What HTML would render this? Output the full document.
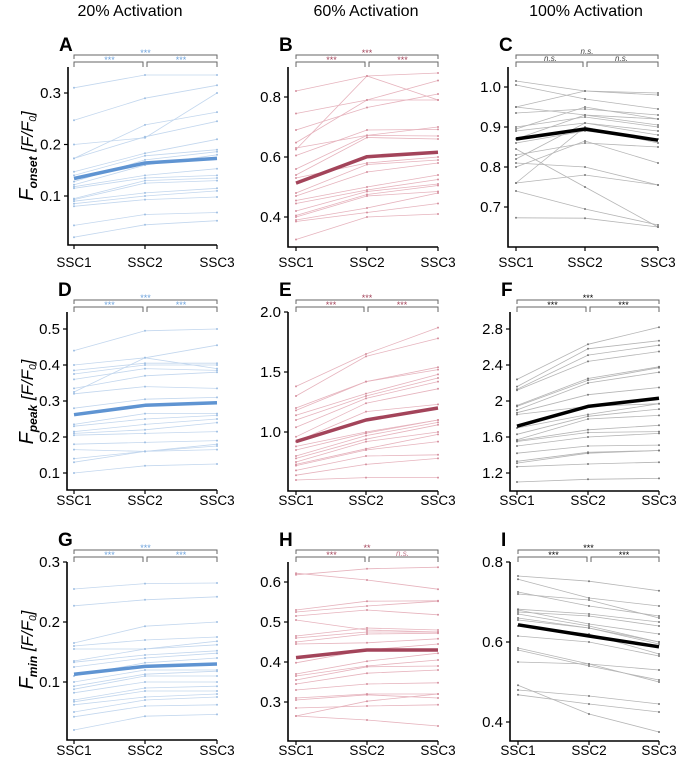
<!DOCTYPE html>
<html><head><meta charset="utf-8"><style>
html,body{margin:0;padding:0;background:#fff;}
svg{display:block;font-family:"Liberation Sans",Arial,sans-serif;}
</style></head><body>
<svg id="fig" width="677" height="759" viewBox="0 0 677 759" xmlns="http://www.w3.org/2000/svg">
<text x="130" y="16" font-size="16" text-anchor="middle">20% Activation</text>
<text x="366" y="16" font-size="16" text-anchor="middle">60% Activation</text>
<text x="586" y="16" font-size="16" text-anchor="middle">100% Activation</text>
<g font-style="italic" transform="translate(33,156) rotate(-90)"><text text-anchor="middle" font-size="20">F<tspan font-size="12" font-weight="bold" dy="4">onset</tspan><tspan dy="-4" font-size="17"> [F/F</tspan><tspan font-size="10" dy="3">0</tspan><tspan dy="-3" font-size="17">]</tspan></text></g>
<g font-style="italic" transform="translate(33,402) rotate(-90)"><text text-anchor="middle" font-size="20">F<tspan font-size="12" font-weight="bold" dy="4">peak</tspan><tspan dy="-4" font-size="17"> [F/F</tspan><tspan font-size="10" dy="3">0</tspan><tspan dy="-3" font-size="17">]</tspan></text></g>
<g font-style="italic" transform="translate(33,650) rotate(-90)"><text text-anchor="middle" font-size="20">F<tspan font-size="12" font-weight="bold" dy="4">min</tspan><tspan dy="-4" font-size="17"> [F/F</tspan><tspan font-size="10" dy="3">0</tspan><tspan dy="-3" font-size="17">]</tspan></text></g>
</svg>
<script>
const categories = ["SSC1","SSC2","SSC3"];
const dataA = [[0.31,0.335,0.335],[0.247,0.29,0.315],[0.2,0.213,0.3],[0.173,0.238,0.263],[0.173,0.215,0.245],[0.147,0.183,0.21],[0.14,0.178,0.19],[0.128,0.17,0.186],[0.122,0.16,0.18],[0.118,0.14,0.153],[0.115,0.135,0.14],[0.095,0.13,0.135],[0.093,0.125,0.13],[0.09,0.106,0.115],[0.085,0.1,0.11],[0.08,0.093,0.098],[0.043,0.064,0.068],[0.02,0.044,0.052]];
const meanA = [0.134,0.164,0.173];
const dataB = [[0.82,0.87,0.88],[0.745,0.79,0.855],[0.69,0.765,0.81],[0.648,0.79,0.79],[0.63,0.672,0.7],[0.625,0.87,0.79],[0.605,0.69,0.692],[0.56,0.672,0.67],[0.54,0.665,0.66],[0.53,0.58,0.6],[0.48,0.575,0.59],[0.47,0.55,0.58],[0.455,0.5,0.54],[0.445,0.49,0.525],[0.42,0.485,0.51],[0.405,0.475,0.505],[0.4,0.47,0.485],[0.39,0.43,0.48],[0.385,0.415,0.445],[0.325,0.4,0.41]];
const meanB = [0.513,0.601,0.616];
const dataC = [[1.015,0.99,0.98],[1.005,0.97,0.945],[0.95,0.99,0.985],[0.95,0.93,0.92],[0.935,0.945,0.93],[0.9,0.925,0.9],[0.895,0.95,0.92],[0.89,0.91,0.88],[0.87,0.93,0.905],[0.86,0.89,0.87],[0.845,0.75,0.65],[0.83,0.86,0.85],[0.82,0.91,0.89],[0.81,0.8,0.755],[0.8,0.865,0.81],[0.76,0.78,0.755],[0.76,0.9,0.86],[0.74,0.695,0.655],[0.673,0.672,0.65]];
const meanC = [0.87,0.895,0.867];
const dataD = [[0.44,0.495,0.5],[0.4,0.42,0.455],[0.385,0.405,0.405],[0.375,0.4,0.4],[0.36,0.39,0.385],[0.335,0.37,0.38],[0.32,0.34,0.335],[0.325,0.42,0.39],[0.28,0.305,0.31],[0.235,0.265,0.265],[0.23,0.25,0.26],[0.215,0.235,0.25],[0.21,0.22,0.24],[0.205,0.21,0.215],[0.18,0.185,0.19],[0.165,0.16,0.18],[0.14,0.16,0.175],[0.13,0.16,0.165],[0.1,0.12,0.125]];
const meanD = [0.262,0.288,0.295];
const dataE = [[1.38,1.65,1.87],[1.3,1.63,1.78],[1.2,1.42,1.54],[1.18,1.42,1.52],[1.14,1.32,1.48],[1.1,1.3,1.45],[1.04,1.28,1.42],[0.96,1.24,1.36],[0.92,1.17,1.23],[0.88,1.0,1.1],[0.85,0.99,1.1],[0.8,0.97,1.08],[0.78,0.94,1.06],[0.75,0.92,1.0],[0.73,0.86,0.98],[0.72,0.85,0.92],[0.68,0.8,0.81],[0.64,0.73,0.78],[0.6,0.62,0.62]];
const meanE = [0.92,1.1,1.2];
const dataF = [[2.24,2.63,2.82],[2.16,2.58,2.67],[2.13,2.51,2.62],[2.12,2.44,2.55],[1.95,2.25,2.38],[1.94,2.23,2.37],[1.9,2.2,2.32],[1.87,2.07,2.15],[1.85,1.94,1.97],[1.7,1.85,1.97],[1.63,1.83,1.91],[1.57,1.8,1.84],[1.56,1.68,1.73],[1.55,1.65,1.66],[1.5,1.6,1.64],[1.42,1.5,1.51],[1.33,1.43,1.45],[1.31,1.42,1.45],[1.27,1.3,1.32],[1.1,1.13,1.14]];
const meanF = [1.72,1.94,2.03];
const dataG = [[0.255,0.264,0.265],[0.227,0.237,0.242],[0.165,0.193,0.2],[0.16,0.17,0.175],[0.155,0.155,0.168],[0.135,0.155,0.162],[0.133,0.145,0.152],[0.125,0.14,0.148],[0.11,0.132,0.14],[0.1,0.12,0.12],[0.093,0.113,0.118],[0.088,0.11,0.11],[0.082,0.1,0.1],[0.07,0.09,0.093],[0.067,0.085,0.085],[0.062,0.075,0.08],[0.05,0.07,0.075],[0.042,0.06,0.062],[0.02,0.043,0.046]];
const meanG = [0.113,0.126,0.13];
const dataH = [[0.622,0.605,0.582],[0.618,0.633,0.637],[0.53,0.552,0.553],[0.525,0.54,0.552],[0.515,0.53,0.518],[0.505,0.48,0.475],[0.465,0.485,0.48],[0.46,0.475,0.475],[0.45,0.47,0.472],[0.445,0.448,0.458],[0.398,0.43,0.445],[0.37,0.402,0.422],[0.365,0.39,0.405],[0.355,0.388,0.39],[0.345,0.372,0.38],[0.33,0.345,0.348],[0.31,0.32,0.32],[0.305,0.318,0.31],[0.285,0.29,0.293],[0.265,0.302,0.32],[0.265,0.255,0.24]];
const meanH = [0.411,0.43,0.43];
const dataI = [[0.765,0.752,0.728],[0.757,0.71,0.69],[0.725,0.69,0.665],[0.72,0.705,0.66],[0.682,0.67,0.65],[0.68,0.645,0.62],[0.675,0.665,0.64],[0.67,0.64,0.6],[0.66,0.635,0.6],[0.655,0.635,0.595],[0.64,0.62,0.57],[0.615,0.6,0.565],[0.585,0.545,0.53],[0.58,0.54,0.505],[0.55,0.545,0.5],[0.492,0.42,0.375],[0.48,0.465,0.445],[0.468,0.445,0.425]];
const meanI = [0.643,0.615,0.588];
const ticksA = [0.1,0.2,0.3], tickLabelsA = ["0.1","0.2","0.3"];
const ticksB = [0.4,0.6,0.8], tickLabelsB = ["0.4","0.6","0.8"];
const ticksC = [0.7,0.8,0.9,1.0], tickLabelsC = ["0.7","0.8","0.9","1.0"];
const ticksD = [0.1,0.2,0.3,0.4,0.5], tickLabelsD = ["0.1","0.2","0.3","0.4","0.5"];
const ticksE = [1.0,1.5,2.0], tickLabelsE = ["1.0","1.5","2.0"];
const ticksF = [1.2,1.6,2,2.4,2.8], tickLabelsF = ["1.2","1.6","2","2.4","2.8"];
const ticksG = [0.1,0.2,0.3], tickLabelsG = ["0.1","0.2","0.3"];
const ticksH = [0.3,0.4,0.5,0.6], tickLabelsH = ["0.3","0.4","0.5","0.6"];
const ticksI = [0.4,0.6,0.8], tickLabelsI = ["0.4","0.6","0.8"];
const sigA = ["***","***","***"], sigB = ["***","***","***"], sigC = ["n.s.","n.s.","n.s."];
const sigD = ["***","***","***"], sigE = ["***","***","***"], sigF = ["***","***","***"];
const sigG = ["***","***","***"], sigH = ["**","***","n.s."], sigI = ["***","***","***"];

const NS = "http://www.w3.org/2000/svg";
const svg = document.getElementById("fig");
function mk(tag, attrs, parent){ const e=document.createElementNS(NS,tag); for(const k in attrs) e.setAttribute(k,attrs[k]); (parent||svg).appendChild(e); return e; }

const blue={thin:"#c3d7ee",mean:"#5f94d2",sig:"#6fa3dc",pt:"#9fbfe3"};
const red={thin:"#e6b3bd",mean:"#a3445a",sig:"#a3445a",pt:"#d48f9e"};
const blk={thin:"#b5b5b5",mean:"#000",sig:"#000",pt:"#777"};

const panels = [
 {id:"A",data:dataA,mean:meanA,ticks:ticksA,tl:tickLabelsA,sig:sigA,ax:68,xs:[74,145,217],top:67,bot:245,lab:267,v0:0.3,y0:93,v1:0.1,y1:196,c:blue},
 {id:"B",data:dataB,mean:meanB,ticks:ticksB,tl:tickLabelsB,sig:sigB,ax:288,xs:[296,367,438],top:67,bot:247,lab:267,v0:0.8,y0:97,v1:0.4,y1:217,c:red},
 {id:"C",data:dataC,mean:meanC,ticks:ticksC,tl:tickLabelsC,sig:sigC,ax:508,xs:[516,585,658],top:67,bot:247,lab:267,v0:1.0,y0:87,v1:0.7,y1:207,c:blk},
 {id:"D",data:dataD,mean:meanD,ticks:ticksD,tl:tickLabelsD,sig:sigD,ax:67,xs:[74,145,217],top:312,bot:490,lab:505,v0:0.5,y0:329,v1:0.1,y1:473,c:blue},
 {id:"E",data:dataE,mean:meanE,ticks:ticksE,tl:tickLabelsE,sig:sigE,ax:288,xs:[296,366,438],top:312,bot:491,lab:505,v0:2.0,y0:312,v1:1.0,y1:432,c:red},
 {id:"F",data:dataF,mean:meanF,ticks:ticksF,tl:tickLabelsF,sig:sigF,ax:510,xs:[517,588,659],top:312,bot:491,lab:505,v0:2.8,y0:329,v1:1.2,y1:473,c:blk},
 {id:"G",data:dataG,mean:meanG,ticks:ticksG,tl:tickLabelsG,sig:sigG,ax:67,xs:[74,145,217],top:562,bot:740,lab:755,v0:0.3,y0:562,v1:0.1,y1:682,c:blue},
 {id:"H",data:dataH,mean:meanH,ticks:ticksH,tl:tickLabelsH,sig:sigH,ax:288,xs:[296,367,438],top:562,bot:741,lab:755,v0:0.6,y0:582,v1:0.3,y1:702,c:red},
 {id:"I",data:dataI,mean:meanI,ticks:ticksI,tl:tickLabelsI,sig:sigI,ax:510,xs:[518,589,659],top:562,bot:741,lab:755,v0:0.8,y0:562,v1:0.4,y1:722,c:blk}
];

panels.forEach(p=>{
  const y = v => p.y0 + (v-p.v0)*(p.y1-p.y0)/(p.v1-p.v0);
  const x = i => p.xs[i];
  const g = mk("g",{});
  
  
  p.data.forEach((row,ri)=>{
    const pl = mk("polyline",{points:row.map((v,i)=>x(i)+","+y(v).toFixed(1)).join(" "),fill:"none",stroke:p.c.thin,"stroke-width":"0.8"},g);
    
    
    row.forEach((v,i)=>{
      const c = mk("circle",{cx:x(i),cy:y(v).toFixed(1),r:"1",fill:p.c.pt},g);
      
      
    });
  });
  const ml = mk("polyline",{points:p.mean.map((v,i)=>x(i)+","+y(v).toFixed(1)).join(" "),fill:"none",stroke:p.c.mean,"stroke-width":"3.5","stroke-linejoin":"round"},g);
  
  
  const ya = mk("path",{d:`M${p.ax},${p.top} V${p.bot} H${p.xs[2]}`,fill:"none",stroke:"#000","stroke-width":"1.6"},g);
  
  
  p.ticks.forEach((t,i)=>{
    mk("line",{x1:p.ax-4,x2:p.ax,y1:y(t),y2:y(t),stroke:"#000","stroke-width":"1.2"},g);
    const tx = mk("text",{x:p.ax-7,y:y(t)+5,"font-size":"15","text-anchor":"end"},g);
    tx.textContent = p.tl[i];
    
    
  });
  categories.forEach((c,i)=>{
    mk("line",{x1:x(i),x2:x(i),y1:p.bot,y2:p.bot+4,stroke:"#000","stroke-width":"1.2"},g);
    const tx = mk("text",{x:x(i),y:p.lab,"font-size":"13.5","text-anchor":"middle"},g);
    tx.textContent = c;
    
    
  });
  const L = mk("text",{x:p.ax-9,y:p.top-16,"font-size":"19","font-weight":"bold"},g);
  L.textContent = p.id;
  
  
  const bt = p.top-12, bl = p.top-5;
  const br = mk("path",{d:`M${x(0)},${bt+4} V${bt} H${x(2)} V${bt+4} M${x(0)},${bl+5} V${bl} H${x(1)-2} V${bl+5} M${x(1)+2},${bl+5} V${bl} H${x(2)} V${bl+5}`,fill:"none",stroke:"#666","stroke-width":"1"},g);
  
  
  const pos = [[(x(0)+x(2))/2,bt-1],[(x(0)+x(1))/2,bl-1],[(x(1)+x(2))/2,bl-1]];
  p.sig.forEach((s,i)=>{
    const ns = s==="n.s.";
    const tx = mk("text",{x:pos[i][0],y:pos[i][1]+(ns?0:2),"font-size":ns?"8":"9","text-anchor":"middle",fill:ns&&p.c!==blk?"#c0788a":(ns?"#444":p.c.sig),"font-style":ns?"italic":"normal"},g);
    tx.textContent = s;
    
    
  });
});
</script>
</body></html>
